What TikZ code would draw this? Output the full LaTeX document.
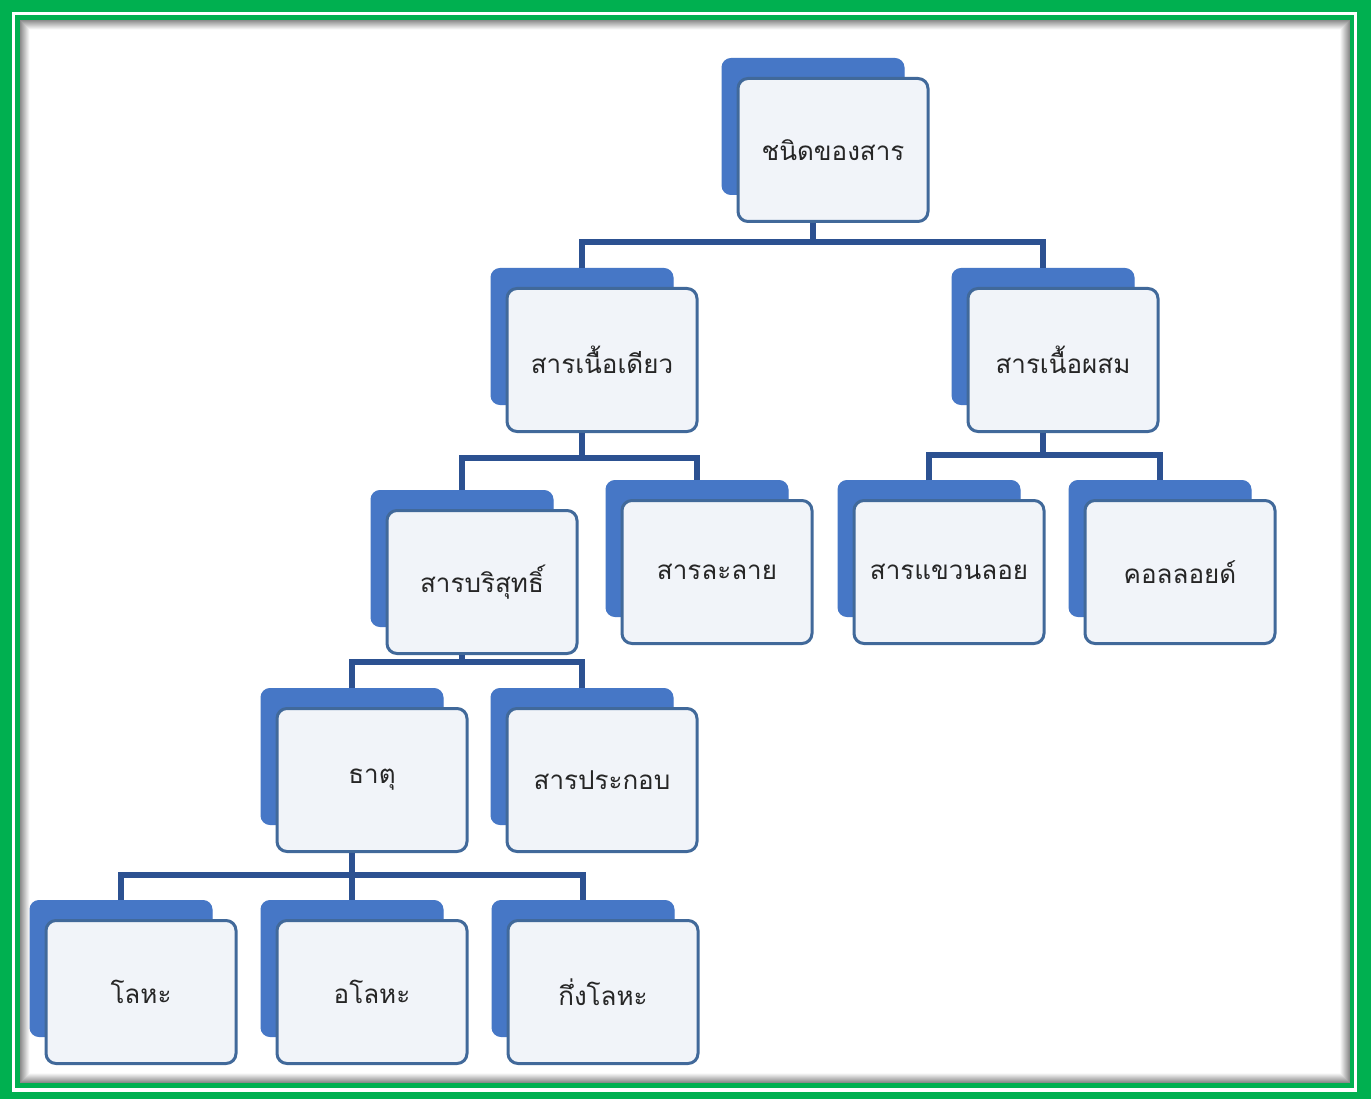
\documentclass[tikz,border=0pt]{standalone}
\usepackage{fontspec}
\newfontfamily\thaifont[Script=Thai]{Loma}
\definecolor{framegreen}{HTML}{00B050}
\definecolor{backblue}{HTML}{4677C6}
\definecolor{frontedge}{HTML}{41699A}
\definecolor{frontfill}{HTML}{F1F4F9}
\definecolor{connblue}{HTML}{2C5191}
\tikzset{
  backbox/.style={fill=backblue, draw=backblue, line width=1pt, rounded corners=9pt,
    minimum width=182pt, minimum height=136pt, inner sep=0pt},
  frontbox/.style={fill=frontfill, draw=frontedge, line width=3pt, rounded corners=10pt,
    minimum width=190pt, minimum height=143pt, inner sep=0pt,
    font=\thaifont\fontsize{26}{31}\selectfont, text=black!85},
  conn/.style={draw=connblue, line width=5.5pt, line join=miter},
}
\newcommand{\tbox}[4]{%
  \node[backbox] (#1b) at (#2-20,#3-23.5) {};
  \node[frontbox] (#1) at (#2,#3) {#4};
}
\begin{document}
\begin{tikzpicture}[x=1pt,y=-1pt]
\useasboundingbox (0,0) rectangle (1371,1099);
% frame
\fill[framegreen] (0,0) rectangle (1371,1099);
\fill[white] (12,12) rectangle (1357,1092);
\fill[framegreen] (15,15) rectangle (1354,1088);
\fill[white] (20,20) rectangle (1350,1083);
\foreach \i in {0,...,9}{
  \pgfmathsetmacro{\sh}{45-4.8*\i}
  \draw[line width=1pt, draw=black!\sh] (20.5+\i,20.5+\i) rectangle (1349.5-\i,1082.5-\i);
}
% junction points
\path (813,242) coordinate (j1);
\path (582,458) coordinate (j2);
\path (1043,455) coordinate (j3);
\path (462,662) coordinate (j4);
\path (352,875) coordinate (j5);
% nodes
\tbox{root}{833}{150}{ชนิดของสาร}
\tbox{pureone}{602}{360}{สารเนื้อเดียว}
\tbox{mix}{1063}{360}{สารเนื้อผสม}
\tbox{pure}{482}{582}{สารบริสุทธิ์}
\tbox{sol}{717}{572}{สารละลาย}
\tbox{susp}{949}{572}{สารแขวนลอย}
\tbox{coll}{1180}{572}{คอลลอยด์}
\tbox{elem}{372}{780}{ธาตุ}
\tbox{comp}{602}{780}{สารประกอบ}
\tbox{metal}{141}{992}{โลหะ}
\tbox{nonmetal}{372}{992}{อโลหะ}
\tbox{metalloid}{603}{992}{กึ่งโลหะ}
% connector lines
\draw[conn] (rootb.south |- root.south) -- (j1);
\draw[conn] (pureoneb.north) |- (j1) -| (mixb.north);
\draw[conn] (pureoneb.south |- pureone.south) -- (j2);
\draw[conn] (pureb.north) |- (j2) -| (solb.north);
\draw[conn] (mixb.south |- mix.south) -- (j3);
\draw[conn] (suspb.north) |- (j3) -| (collb.north);
\draw[conn] (pureb.south |- pure.south) -- (j4);
\draw[conn] (elemb.north) |- (j4) -| (compb.north);
\draw[conn] (elemb.south |- elem.south) -- (j5);
\draw[conn] (metalb.north) |- (j5) -| (metalloidb.north);
\draw[conn] (j5) -- (nonmetalb.north);
\end{tikzpicture}
\end{document}
